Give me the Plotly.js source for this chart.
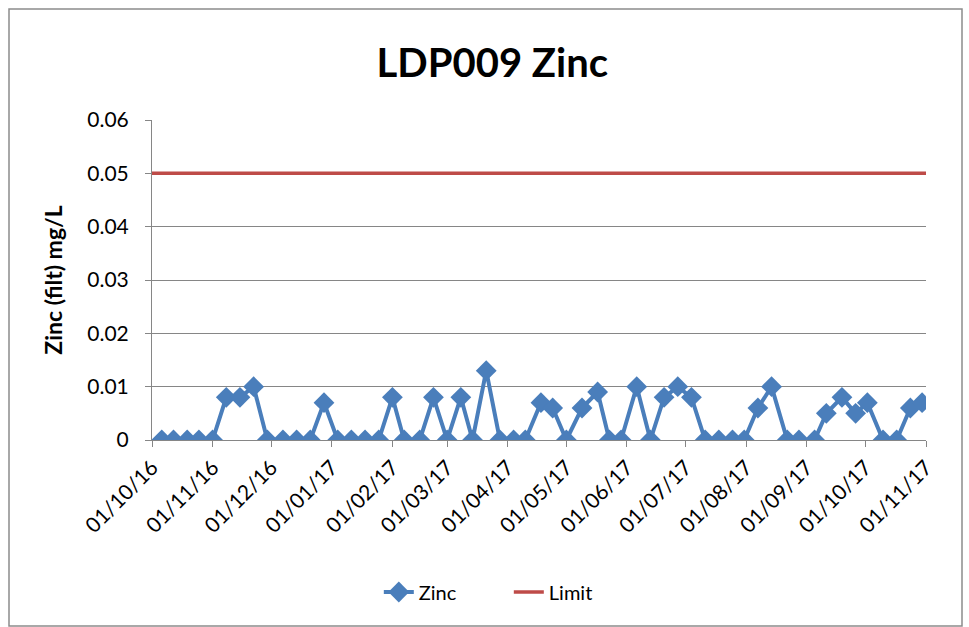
<!DOCTYPE html>
<html>
<head>
<meta charset="utf-8">
<script src="https://cdn.plot.ly/plotly-3.0.1.min.js"></script>
<style>
html,body{margin:0;padding:0;background:#fff;}
#chart{width:969px;height:627px;}
</style>
</head>
<body>
<div id="chart"></div>
<script>
// Sample dates
const zincDates = [
  "2016-10-06","2016-10-12","2016-10-19","2016-10-25","2016-11-01","2016-11-08","2016-11-15","2016-11-22",
  "2016-11-29","2016-12-07","2016-12-14","2016-12-21","2016-12-28","2017-01-04","2017-01-11","2017-01-18",
  "2017-01-25","2017-02-01","2017-02-07","2017-02-15","2017-02-22","2017-03-01","2017-03-08","2017-03-14",
  "2017-03-21","2017-03-28","2017-04-04","2017-04-10","2017-04-18","2017-04-24","2017-05-01","2017-05-09",
  "2017-05-17","2017-05-23","2017-05-29","2017-06-06","2017-06-13","2017-06-20","2017-06-27","2017-07-04",
  "2017-07-11","2017-07-18","2017-07-25","2017-07-31","2017-08-07","2017-08-14","2017-08-22","2017-08-28",
  "2017-09-05","2017-09-11","2017-09-19","2017-09-26","2017-10-02","2017-10-10","2017-10-17","2017-10-24",
  "2017-10-30"
];
const zincValues = [
  0,0,0,0,0,0.008,0.008,0.01,
  0,0,0,0,0.007,0,0,0,
  0,0.008,0,0,0.008,0,0.008,0,
  0.013,0,0,0,0.007,0.006,0,0.006,
  0.009,0,0,0.01,0,0.008,0.01,0.008,
  0,0,0,0,0.006,0.01,0,0,
  0,0.005,0.008,0.005,0.007,0,0,0.006,
  0.007
];
const limitDates = ["2016-10-01","2017-11-01"];
const limitValues = [0.05,0.05];

const tickDates = ["2016-10-01","2016-11-01","2016-12-01","2017-01-01","2017-02-01","2017-03-01","2017-04-01",
  "2017-05-01","2017-06-01","2017-07-01","2017-08-01","2017-09-01","2017-10-01","2017-11-01"];
const tickLabels = ["01/10/16","01/11/16","01/12/16","01/01/17","01/02/17","01/03/17","01/04/17",
  "01/05/17","01/06/17","01/07/17","01/08/17","01/09/17","01/10/17","01/11/17"];
const yTicks = [0,0.01,0.02,0.03,0.04,0.05,0.06];
const yTickLabels = ["0","0.01","0.02","0.03","0.04","0.05","0.06"];

const FONT = "Lato, 'Open Sans', sans-serif";

const traces = [
  {
    x: zincDates, y: zincValues, name: "Zinc", type: "scatter", mode: "lines+markers",
    line: {color: "#4A7EBB", width: 4},
    marker: {symbol: "diamond", size: 16, color: "#4A7EBB", line: {width: 0}}
  },
  {
    x: limitDates, y: limitValues, name: "Limit", type: "scatter", mode: "lines",
    line: {color: "#BE4B48", width: 3.5}
  }
];

const layout = {
  width: 969, height: 627,
  margin: {l: 152, r: 43, t: 120, b: 187},
  paper_bgcolor: "#fff", plot_bgcolor: "#fff",
  font: {family: FONT, color: "#000", size: 21},
  showlegend: true,
  title: {
    text: "<b>LDP009 Zinc</b>",
    font: {family: FONT, size: 40, color: "#000"},
    x: 0.508, xref: "container", xanchor: "center",
    y: 0.90, yref: "container", yanchor: "middle"
  },
  xaxis: {
    type: "date",
    range: ["2016-10-01","2017-11-01"],
    tickmode: "array", tickvals: tickDates, ticktext: tickLabels,
    tickangle: -45,
    ticks: "outside", ticklen: 6, tickcolor: "#868686", tickwidth: 1,
    showline: true, linecolor: "#868686", linewidth: 1,
    showgrid: false, zeroline: false,
    tickfont: {family: FONT, size: 21, color: "#000"}
  },
  yaxis: {
    range: [0, 0.06],
    tickmode: "array", tickvals: yTicks, ticktext: yTickLabels,
    ticks: "outside", ticklen: 6, tickcolor: "#868686",
    ticklabelstandoff: 12,
    showline: true, linecolor: "#868686", linewidth: 1,
    showgrid: true, gridcolor: "#868686", gridwidth: 1,
    zeroline: false,
    tickfont: {family: FONT, size: 21, color: "#000"},
    title: {text: "<b>Zinc (filt) mg/L</b>", font: {family: FONT, size: 23, color: "#000"}, standoff: 18}
  },
  legend: {
    orientation: "h", x: 0.461, xanchor: "center", y: -0.475, yanchor: "middle",
    font: {family: FONT, size: 20, color: "#000"},
    entrywidth: 85, entrywidthmode: "pixels",
    bgcolor: "rgba(0,0,0,0)"
  },
  shapes: [
    {type: "rect", xref: "paper", yref: "paper",
     x0: (9-152)/774, x1: (962-152)/774, y0: (440-626)/320, y1: (440-9)/320,
     line: {color: "#8c8c8c", width: 1.5}, fillcolor: "rgba(0,0,0,0)", layer: "below"}
  ]
};

Plotly.newPlot("chart", traces, layout, {displayModeBar: false, staticPlot: true});
</script>
</body>
</html>
